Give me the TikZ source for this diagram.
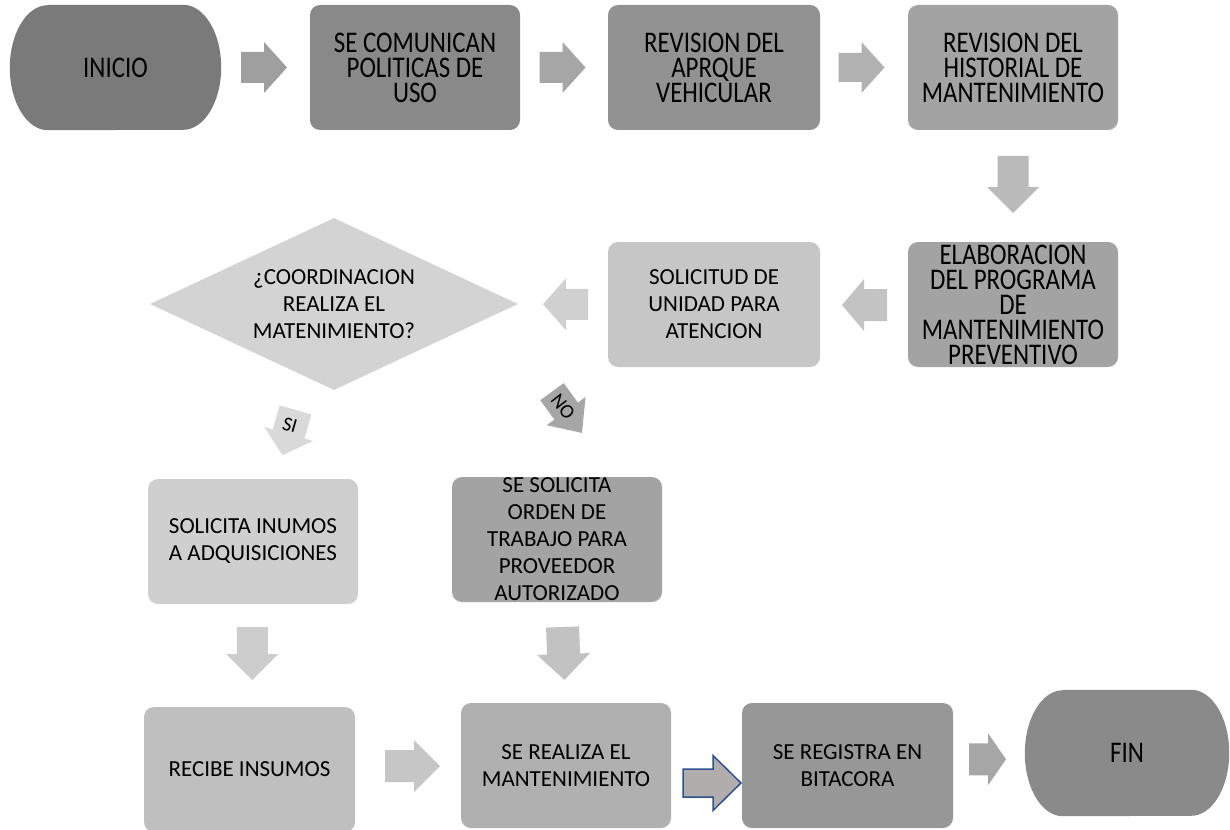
\documentclass[tikz,border=0pt]{standalone}
\usepackage{fontspec}
\setmainfont{Carlito}
\newfontfamily\narrowfont[FakeStretch=0.83]{Carlito}
\usetikzlibrary{shapes.geometric,calc,backgrounds}

% fills of the process boxes
\definecolor{cIni}{HTML}{7A7A7A}
\definecolor{cCom}{HTML}{898989}
\definecolor{cApr}{HTML}{929292}
\definecolor{cHis}{HTML}{A3A3A3}
\definecolor{cEla}{HTML}{A3A3A3}
\definecolor{cSol}{HTML}{C6C6C6}
\definecolor{cDec}{HTML}{D3D3D3}
\definecolor{cIns}{HTML}{CFCFCF}
\definecolor{cOrd}{HTML}{A3A3A3}
\definecolor{cRec}{HTML}{BFBFBF}
\definecolor{cRea}{HTML}{B0B0B0}
\definecolor{cReg}{HTML}{979797}
\definecolor{cFin}{HTML}{8A8A8A}
% fills of the block arrows
\definecolor{aOne}{HTML}{9F9F9F}
\definecolor{aTwo}{HTML}{A6A6A6}
\definecolor{aThree}{HTML}{B1B1B1}
\definecolor{aDown}{HTML}{BABABA}
\definecolor{aLeftA}{HTML}{C3C3C3}
\definecolor{aLeftB}{HTML}{D0D0D0}
\definecolor{aSi}{HTML}{D9D9D9}
\definecolor{aNo}{HTML}{A6A6A6}
\definecolor{aDl}{HTML}{CDCDCD}
\definecolor{aDr}{HTML}{C2C2C2}
\definecolor{aBot}{HTML}{C6C6C6}
\definecolor{aBlueFill}{HTML}{B1ADAD}
\definecolor{aBlueLine}{HTML}{2F528F}
\definecolor{aLast}{HTML}{A6A6A6}

\begin{document}
\begin{tikzpicture}[x=1pt,y=-1pt,
  box/.style={rectangle, rounded corners=10pt, minimum width=210pt,
    minimum height=125pt, inner sep=0pt},
  narrow/.style={align=center, text=black, inner sep=0pt,
    font=\narrowfont\fontsize{30}{25}\selectfont},
  plain/.style={align=center, text=black, inner sep=0pt,
    font=\fontsize{23}{27}\selectfont},
  small/.style={text=black, inner sep=0pt, font=\fontsize{20}{24}\selectfont},
  % block arrow pointing along local +x: length, shaft width, head width, head length
  pics/barrow/.style n args={4}{code={
    \path[pic actions] (-#1/2,-#2/2) -- ({#1/2-#4},-#2/2) -- ({#1/2-#4},-#3/2)
      -- (#1/2,0) -- ({#1/2-#4},#3/2) -- ({#1/2-#4},#2/2) -- (-#1/2,#2/2) -- cycle;
  }}
]
\useasboundingbox (0,0) rectangle (1230,829);

% ---------- first row ----------
\node[box, rounded corners=0pt, minimum width=211pt] (inicio) at (115.5,67.5) {};
\node[narrow] (inicio-t) at (inicio) {INICIO};
\node[box, fill=cCom] (comunican) at (415,67.5) {};
\node[narrow] (comunican-t) at (comunican) {SE COMUNICAN\\POLITICAS DE\\USO};
\node[box, fill=cApr, minimum width=212pt] (aprque) at (714,67.5) {};
\node[narrow] (aprque-t) at (aprque) {REVISION DEL\\APRQUE\\VEHICULAR};
\node[box, fill=cHis] (historial) at (1013,67.5) {};
\node[narrow] (historial-t) at (historial) {REVISION DEL\\HISTORIAL DE\\MANTENIMIENTO};

% ---------- second row ----------
\node[box, fill=cEla] (elab) at (1013,304.5) {};
\node[narrow] (elab-t) at (elab) {ELABORACION\\DEL PROGRAMA\\DE\\MANTENIMIENTO\\PREVENTIVO};
\node[box, fill=cSol, minimum width=212pt] (solicitud) at (714,304.5) {};
\node[plain] (solicitud-t) at (solicitud) {SOLICITUD DE\\UNIDAD PARA\\ATENCION};
\node[diamond, aspect=2.14, minimum width=368pt, minimum height=172pt,
  inner sep=0pt, fill=cDec] (dec) at (334,304) {};
\node[plain] (dec-t) at (dec) {¿COORDINACION\\REALIZA EL\\MATENIMIENTO?};

% ---------- third row ----------
\node[box, fill=cIns] (insumos) at (253,541.5) {};
\node[plain] (insumos-t) at (insumos) {SOLICITA INUMOS\\A ADQUISICIONES};
\node[box, fill=cOrd] (orden) at (557,539.5) {};
\node[plain] (orden-t) at (orden) {SE SOLICITA\\ORDEN DE\\TRABAJO PARA\\PROVEEDOR\\AUTORIZADO};

% ---------- last row ----------
\node[box, fill=cRec, minimum width=211pt] (recibe) at (249.5,769.5) {};
\node[plain] (recibe-t) at (recibe) {RECIBE INSUMOS};
\node[box, fill=cRea] (realiza) at (566,765.5) {};
\node[plain] (realiza-t) at (realiza) {SE REALIZA EL\\MANTENIMIENTO};
\node[box, fill=cReg, minimum width=211pt] (registra) at (847.5,765.5) {};
\node[plain] (registra-t) at (registra) {SE REGISTRA EN\\BITACORA};
\node[box, rounded corners=0pt, minimum width=204pt, minimum height=126pt] (fin) at (1127,753) {};
\node[narrow] (fin-t) at (fin) {FIN};

% terminator shapes behind the start and end labels
\begin{scope}[on background layer]
  \fill[cIni] ([xshift=38pt]inicio.north west) -- ([xshift=-38pt]inicio.north east)
    arc[start angle=-90, end angle=90, x radius=38, y radius=62.5]
    -- ([xshift=38pt]inicio.south west)
    arc[start angle=90, end angle=270, x radius=38, y radius=62.5] -- cycle;
  \fill[cFin] ([xshift=38pt]fin.north west) -- ([xshift=-38pt]fin.north east)
    arc[start angle=-90, end angle=90, x radius=38, y radius=63]
    -- ([xshift=38pt]fin.south west)
    arc[start angle=90, end angle=270, x radius=38, y radius=63] -- cycle;
\end{scope}

% ---------- block arrows ----------
\pic[fill=aOne] at ($(inicio.east)!0.5!(comunican.west)+(-1.5,0)$) {barrow={46}{31}{51}{23}};
\pic[fill=aTwo] at ($(comunican.east)!0.5!(aprque.west)+(-1.5,0)$) {barrow={46}{31}{51}{23}};
\pic[fill=aThree] at ($(aprque.east)!0.5!(historial.west)+(-2.5,0)$) {barrow={46}{29}{51}{23}};
\pic[fill=aDown, rotate=-90] at ($(historial.south)!0.5!(elab.north)+(0,-1.5)$) {barrow={57}{31}{52}{26}};
\pic[fill=aLeftA, rotate=180] at ($(elab.west)!0.5!(solicitud.east)+(0.5,0.5)$) {barrow={45}{32}{52}{22}};
\pic[fill=aLeftB, rotate=180] at ($(solicitud.west)!0.5!(dec.east)+(2.5,0)$) {barrow={45}{31}{52}{23}};

% decision outcomes
\pic[fill=aSi, rotate=-106] at ($(dec.south)!0.5!(insumos.north)+(-4.5,-2)$) {barrow={47}{33}{51}{22}};
\node[small, rotate=-16] (si) at ($(dec.south)!0.5!(insumos.north)+(-3.5,-9.5)$) {SI};
\pic[fill=aNo, rotate=-54] at ($(orden.north)+(10,-64.5)$) {barrow={51}{29}{48}{27}};
\node[small, rotate=-52] (no) at ($(orden.north)+(6,-70)$) {NO};

\pic[fill=aDl, rotate=-90] at ($(insumos.south)!0.5!(recibe.north)+(1,-2)$) {barrow={53}{31}{52}{26}};
\pic[fill=aDr, rotate=-88] at ($(orden.south)!0.5!(realiza.north)+(2,1)$) {barrow={53}{33}{53}{26}};
\pic[fill=aBot] at ($(recibe.east)!0.5!(realiza.west)+(4.5,-1.5)$) {barrow={55}{32}{52}{26}};
\pic[fill=aBlueFill, draw=aBlueLine, line width=1.5pt, line join=miter]
  at ($(realiza.east)!0.5!(registra.west)+(5.5,17.5)$) {barrow={58}{28}{55}{28}};
\pic[fill=aLast] at ($(registra.east)!0.5!(fin.west)+(-1.5,0)$) {barrow={37}{32}{52}{18}};
\end{tikzpicture}
\end{document}
